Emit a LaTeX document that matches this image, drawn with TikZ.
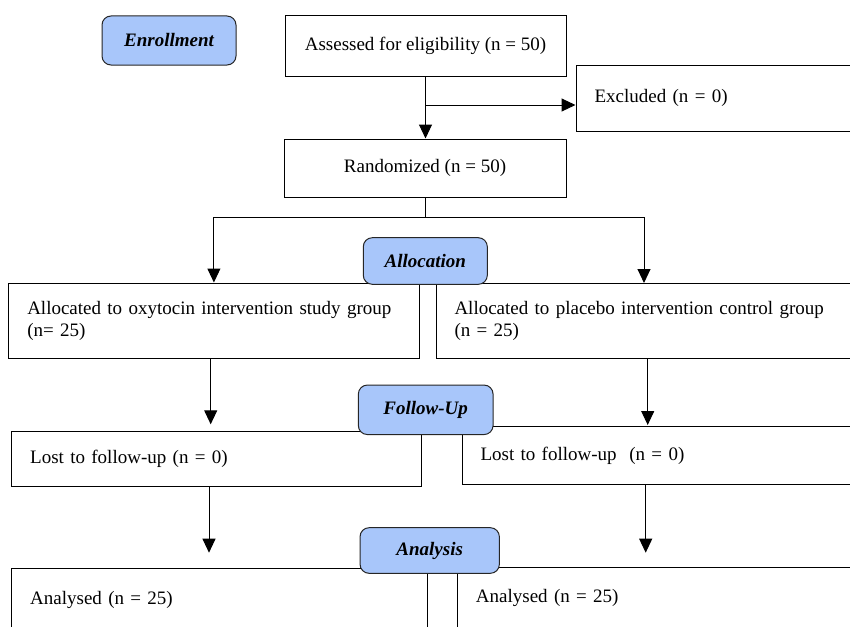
\documentclass[tikz,border=0pt]{standalone}
\usepackage{fontspec}
\setmainfont{Liberation Serif}
\usetikzlibrary{arrows.meta}
\definecolor{phaseblue}{RGB}{168,198,250}
\tikzset{
  box/.style={draw, line width=1pt, rectangle, inner xsep=18.5pt, inner ysep=0pt,
    font=\fontsize{19}{22}\selectfont},
  phase/.style={draw=black!85, fill=phaseblue, rounded corners=9pt, line width=1pt,
    inner sep=0pt, font=\fontsize{19}{22}\selectfont\bfseries\itshape},
  arr/.style={line width=1pt, -{Triangle[length=14pt,width=13pt]}}
}
\begin{document}
\begin{tikzpicture}[x=1pt,y=-1pt]
    \useasboundingbox (0,0) rectangle (850,626);
    \clip (0,0) rectangle (850,626);

    % boxes
    \node[box, minimum width=281, minimum height=60] (assess) at (425.5,46) {Assessed for eligibility (n = 50)};
    \node[box, minimum width=324, minimum height=66, text width=287pt, align=left] (excl) at (738,98) {Excluded (n = 0)};
    \node[box, minimum width=282, minimum height=58] (rand) at (425,168) {Randomized (n = 50)};
    \node[box, minimum width=410.3, minimum height=75, text width=373.3pt, align=left] (allocL) at (213.9,320.5)
        {\makebox[373.3pt][s]{Allocated to oxytocin intervention study group}\\(n= 25)};
    \node[box, minimum width=464, minimum height=75, text width=427pt, align=left] (allocR) at (668,320.5)
        {Allocated to placebo intervention control group\\(n = 25)};
    \node[box, minimum width=410, minimum height=54.3, text width=373pt, align=left] (lostL) at (216.7,458.9) {Lost to follow-up (n = 0)};
    \node[box, minimum width=438, minimum height=58.3, text width=401pt, align=left] (lostR) at (681,455.8) {Lost to follow-up\ \ (n = 0)};
    \node[box, minimum width=415.4, minimum height=64, text width=378.4pt, align=left] (anaL) at (219.4,600) {Analysed (n = 25)};
    \node[box, minimum width=442.5, minimum height=61.4, text width=405.5pt, align=left] (anaR) at (678.7,598) {Analysed (n = 25)};

    % connectors
    \draw[arr] (assess.south) -- (assess.south |- rand.north);
    \coordinate (exsplit) at (425.7,105);
    \draw[arr] (exsplit) -- (exsplit -| excl.west);
    \draw (rand.south) -- ++(0,19.5) coordinate (split);
    \coordinate (rtip) at (644,283);
    \draw[arr] (split) -| (allocL.north);
    \draw[arr] (split) -| (rtip);
    \coordinate (ltip1) at (210.7,424.3);
    \coordinate (rtip1) at (647.7,425);
    \coordinate (ltip2) at (209,552.7);
    \coordinate (rtip2) at (645.7,552.7);
    \draw[arr] (allocL.south -| ltip1) -- (ltip1);
    \draw[arr] (allocR.south -| rtip1) -- (rtip1);
    \draw[arr] (lostL.south -| ltip2) -- (ltip2);
    \draw[arr] (lostR.south -| rtip2) -- (rtip2);

    % phase labels
    \node[phase, minimum width=134, minimum height=49] (enroll) at (169,40.5) {Enrollment};
    \node[phase, minimum width=124, minimum height=46.6] (alloc) at (425.3,261) {Allocation};
    \node[phase, minimum width=134.7, minimum height=49.5] (follow) at (425.7,409.8) {Follow-Up};
    \node[phase, minimum width=139.3, minimum height=45.6] (analysis) at (429.7,550.5) {Analysis};
\end{tikzpicture}
\end{document}
